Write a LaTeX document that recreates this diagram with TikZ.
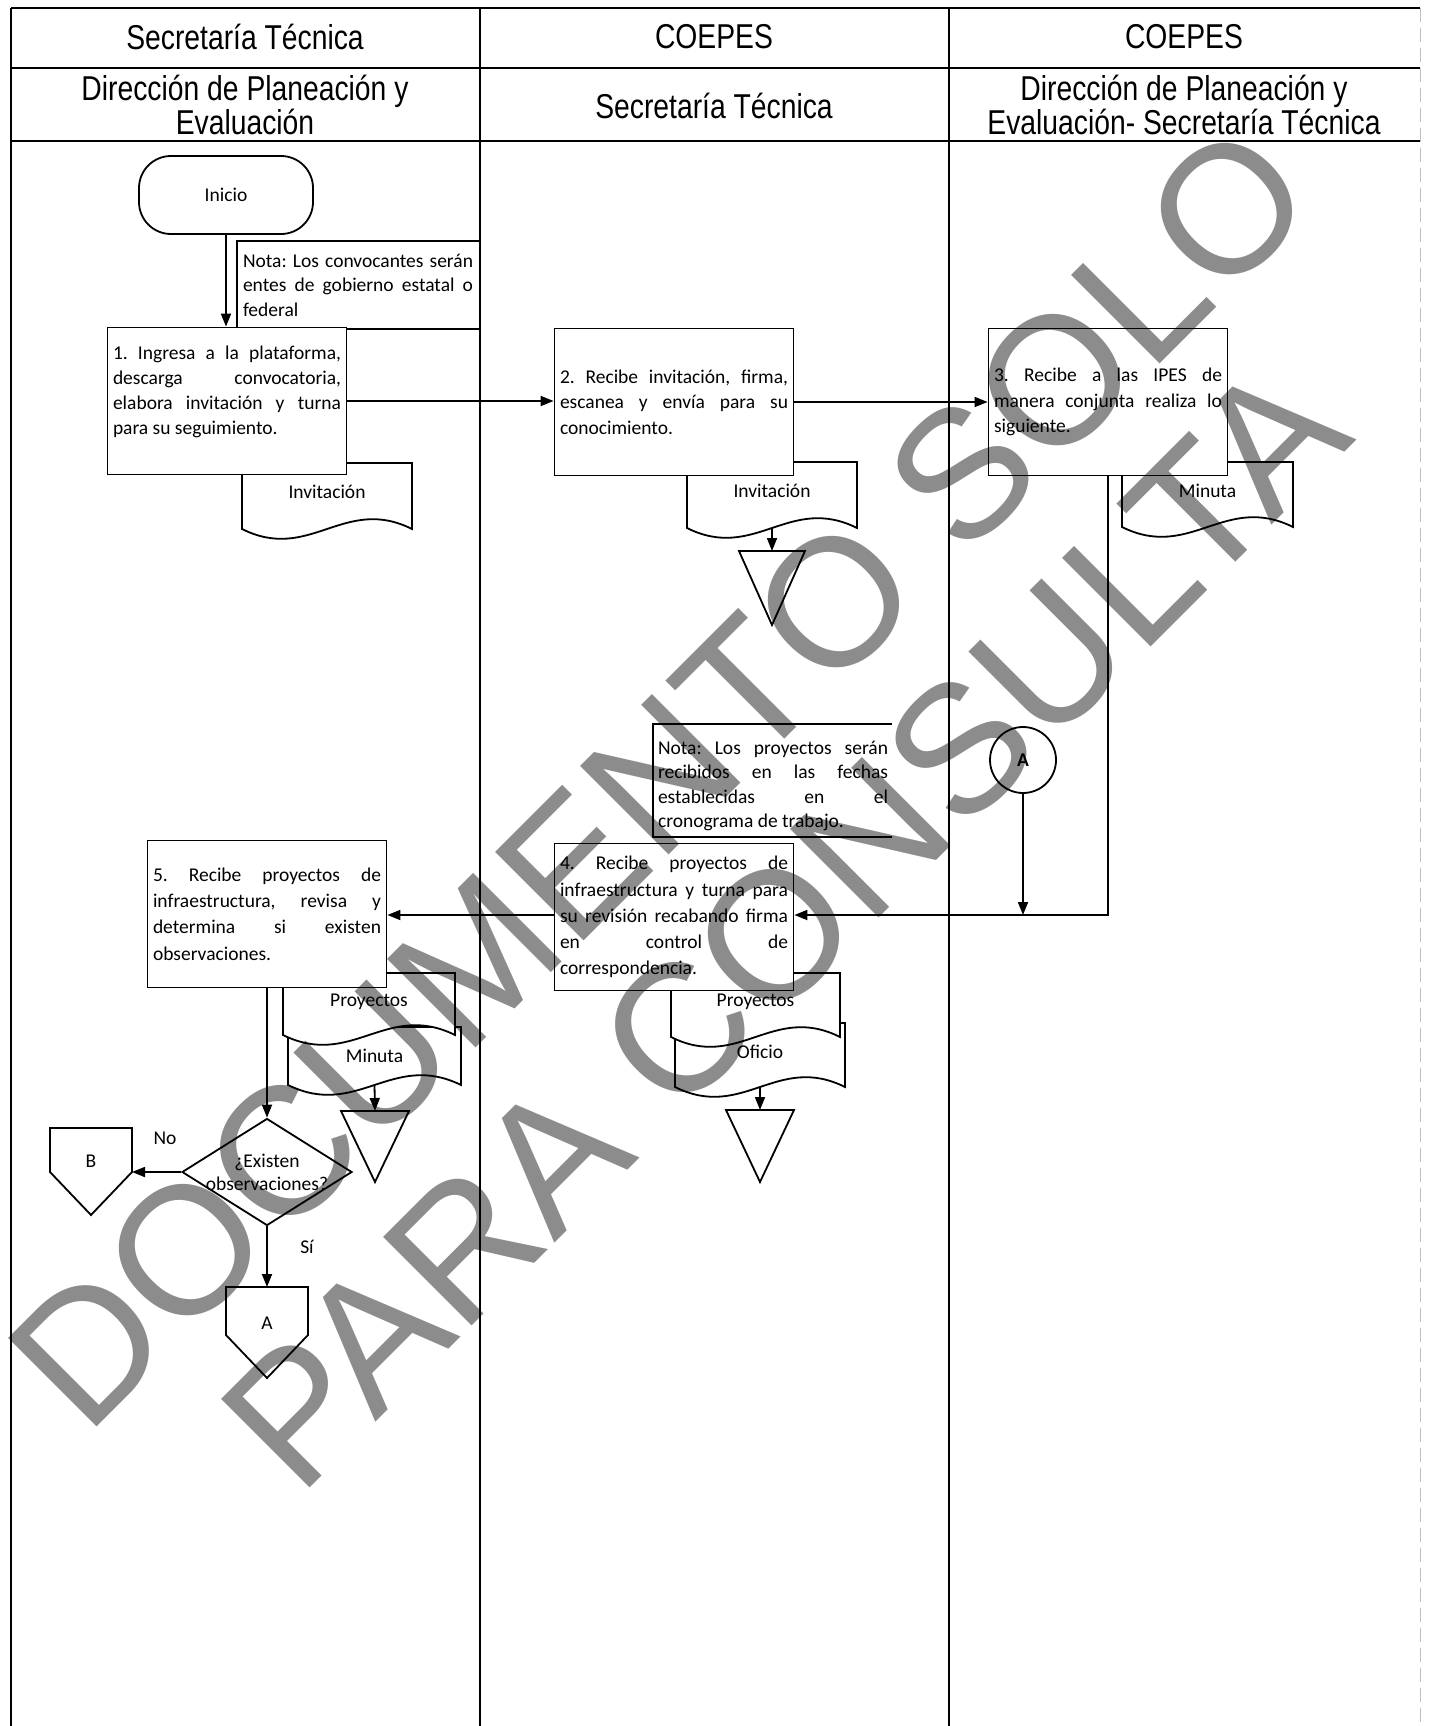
\documentclass[tikz,border=0pt]{standalone}
\usepackage{fontspec}
\setmainfont{Carlito}
\newfontfamily\headfont[FakeStretch=0.82]{Liberation Sans}
\newfontfamily\markfont{Liberation Sans}
\usepackage{tikz}
\usetikzlibrary{positioning, arrows.meta, calc, shapes.geometric}
\frenchspacing

\tikzset{
  pics/docu/.style n args={3}{code={
    \filldraw[conn, fill=white] (0,0) -- (#1,0) -- (#1,#2)
      .. controls ({0.6*#1},{#2-34}) and ({0.4*#1},{#2+34}) .. (0,#2) -- cycle;
    \node (-lbl) at ({#1/2},29) {#3};
    \coordinate (-bot) at ({#1/2},#2);
  }}
}

\begin{document}
\begin{tikzpicture}[
  x=1pt, y=-1pt,
  every node/.style={font=\fontsize{19.5}{25.5}\selectfont},
  lane/.style={line width=1.6pt},
  head/.style={font=\headfont\fontsize{34.5}{34}\selectfont, align=center},
  proc/.style={draw, line width=1.8pt, fill=white, minimum width=239pt, minimum height=147pt, text width=228pt, align=justify, inner sep=5pt},
  tall/.style={font=\fontsize{19.5}{26.2}\selectfont},
  nota/.style={text width=230pt, align=justify, inner sep=0pt, font=\fontsize{19.5}{24.5}\selectfont},
  conn/.style={line width=1.8pt},
  arrow/.style={-{Triangle[length=13pt, width=10pt]}, line width=1.8pt},
  wmark/.style={font=\markfont\fontsize{182}{182}\selectfont, rotate=45, text=black, text opacity=0.45, inner sep=0pt}
]
\useasboundingbox (0,0) rectangle (1430,1726);

% Table frame
\draw[lane, line width=2.5pt] (11,8) -- (1420,8);
\draw[lane] (11,8) -- (11,1726);
\draw[lane] (480,8) -- (480,1726);
\draw[lane] (949,8) -- (949,1726);
\draw[lane, gray!50, line width=1pt, dash pattern=on 14pt off 6pt] (1420,8) -- (1420,1726);
\draw[lane, line width=2.2pt] (11,68) -- (1420,68);
\draw[lane, line width=2.2pt] (11,141) -- (1420,141);

% Headers
\node[head] (h1) at (245,37) {Secretaría Técnica};
\node[head] (h2) at (714,37) {COEPES};
\node[head] (h3) at (1184,37) {COEPES};
\node[head] (s1) at (245,105) {Dirección de Planeación y\\Evaluación};
\node[head] (s2) at (714,106) {Secretaría Técnica};
\node[head] (s3) at (1184,105) {Dirección de Planeación y\\Evaluación- Secretaría Técnica};

% Notes
\draw[conn] (480,241) -| (237,329) -- (480,329);
\node[nota] (n1) at (358,285) {Nota: Los convocantes serán\linebreak entes de gobierno estatal o\linebreak federal};
\draw[conn] (892,724) -| (653,837) -- (892,837);
\node[nota] (n2) at (773,786) {Nota: Los proyectos serán\linebreak recibidos en las fechas\linebreak establecidas en el\linebreak cronograma de trabajo.};

% Documents
\pic (d1) at (242,463) {docu={170}{66}{Invitación}};
\pic (d2) at (687,462) {docu={170}{66}{Invitación}};
\pic (d3) at (1122,462) {docu={171}{65}{Minuta}};
\pic (d5b) at (288,1027) {docu={173}{58}{Minuta}};
\pic (d5a) at (283,973) {docu={172}{62}{Proyectos}};
\pic (d4b) at (675,1023) {docu={170}{64}{Oficio}};
\pic (d4a) at (671,973) {docu={169}{64}{Proyectos}};

% Start and process boxes
\node[draw, conn, rounded corners=32pt, minimum width=174pt, minimum height=78pt] (ini) at (226,195) {Inicio};

\node[proc, font=\fontsize{19.5}{24.8}\selectfont] (b1) at (227,401) {1. Ingresa a la plataforma,\linebreak descarga convocatoria,\linebreak elabora invitación y turna\linebreak para su seguimiento.\par\vspace{-3pt}\mbox{}};
\node[proc] (b2) at (674,402) {2. Recibe invitación, firma,\linebreak escanea y envía para su\linebreak conocimiento.};
\node[proc] (b3) at (1108,402) {3. Recibe a las IPES de\linebreak manera conjunta realiza lo\linebreak siguiente.};
\node[proc, tall] (b4) at (674,917) {4. Recibe proyectos de\linebreak infraestructura y turna para\linebreak su revisión recabando firma\linebreak en control de\linebreak correspondencia.};
\node[proc, tall] (b5) at (267,914) {5. Recibe proyectos de\linebreak infraestructura, revisa y\linebreak determina si existen\linebreak observaciones.};

% Decision
\node[diamond, draw, conn, minimum width=170pt, minimum height=107pt, inner sep=0pt] (dec) at (267,1172) {};
\node[align=center, font=\fontsize{19.5}{23}\selectfont] (dect) at (dec) {¿Existen\\observaciones?};
\node (no) at (165,1138) {No};
\node (si) at (307,1247) {Sí};

% Connector circle
\node[circle, draw, conn, minimum size=66pt, inner sep=0pt, font=\fontsize{19.5}{25}\selectfont\bfseries] (cA) at (1023,760) {A};

% Off-page connectors
\coordinate (pB) at (91,1128);
\draw[conn] (pB) ++(-41,0) -- ++(82,0) -- ++(0,44) -- ++(-41,43) -- ++(-41,-43) -- cycle;
\node (lB) at (91,1161) {B};
\coordinate (bR) at (132,1172);
\coordinate (aT) at (267,1287);
\draw[conn] (aT) ++(-41,0) -- ++(82,0) -- ++(0,48) -- ++(-41,43) -- ++(-41,-43) -- cycle;
\node (lA) at (267,1323) {A};

% Storage triangles
\coordinate (t2) at (772,551);
\draw[conn] (t2) ++(-33,0) -- ++(66,0) -- ++(-33,74) -- cycle;
\coordinate (t5) at (375,1111);
\draw[conn] (t5) ++(-34,0) -- ++(68,0) -- ++(-34,71) -- cycle;
\coordinate (t4) at (760,1110);
\draw[conn] (t4) ++(-34,0) -- ++(68,0) -- ++(-34,72) -- cycle;

% Flow
\coordinate (j1) at (1108,915);
\draw[arrow] (ini.south) -- (ini.south |- b1.north);
\draw[arrow] (b1.east) -- (b1.east -| b2.west);
\draw[arrow] (b2.east) -- (b2.east -| b3.west);
\draw[arrow] (b3.south) -- (j1) -- (j1 -| b4.east);
\draw[arrow] (cA.south) -- (cA.south |- j1);
\draw[arrow] (j1 -| b4.west) -- (j1 -| b5.east);
\draw[arrow] (b5.south) -- (dec.north);
\draw[arrow] (dec.west) -- (bR);
\draw[arrow] (dec.south) -- (aT);
\draw[arrow] (d2-bot) -- (t2);
\draw[arrow] (d5b-bot) -- (t5);
\draw[arrow] (d4b-bot) -- (t4);

% Watermark
\node[wmark] (wm1) at (660,776) {DOCUMENTO SOLO};
\node[wmark] (wm2) at (784,925) {PARA CONSULTA};

\end{tikzpicture}
\end{document}
